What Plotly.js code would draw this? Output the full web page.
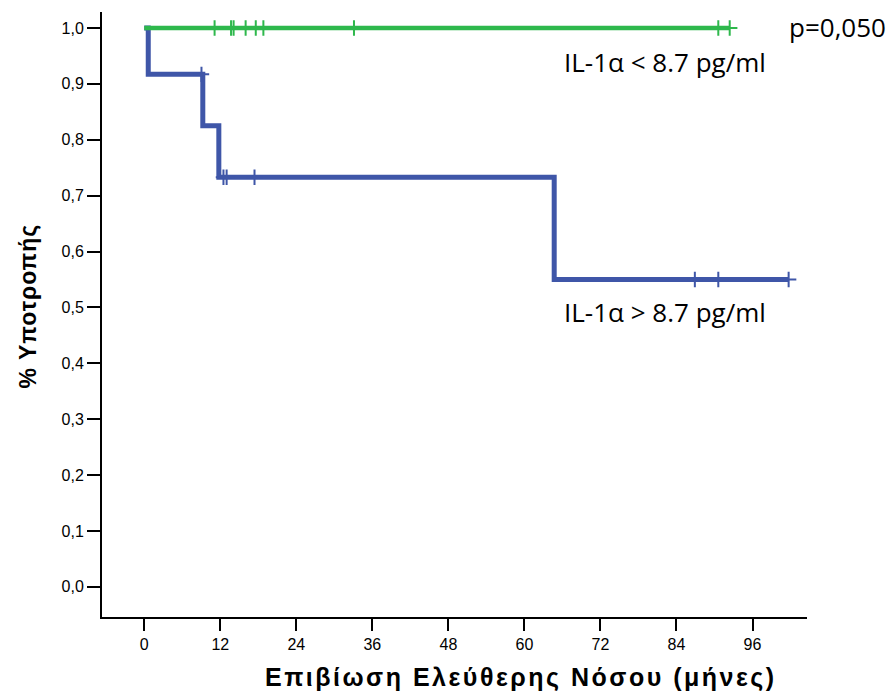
<!DOCTYPE html>
<html>
<head>
<meta charset="utf-8">
<script src="https://cdn.plot.ly/plotly-3.0.1.min.js"></script>
<style>
html,body{margin:0;padding:0;background:#fff;}
#chart{width:888px;height:692px;}
.annotation[data-index="0"] text{letter-spacing:2.5px;}
.annotation[data-index="1"] text{letter-spacing:1px;}
</style>
</head>
<body>
<div id="chart"></div>
<script>
// Kaplan-Meier step data
const blueStepTimes = [0, 0.63, 9.24, 11.77, 64.7, 101.7];
const blueStepSurv  = [1.0, 0.917, 0.825, 0.733, 0.55, 0.55];
const blueCensorTimes = [9.03, 12.5, 13.0, 17.4, 86.9, 90.6, 101.7];
const blueCensorSurv  = [0.917, 0.733, 0.733, 0.733, 0.55, 0.55, 0.55];

const greenStepTimes = [0, 92.4];
const greenStepSurv  = [1.0, 1.0];
const greenCensorTimes = [11.1, 13.7, 14.1, 16.0, 17.6, 18.8, 33.1, 90.6, 92.4];
const greenCensorSurv  = [1, 1, 1, 1, 1, 1, 1, 1, 1];

const xTicks = [0, 12, 24, 36, 48, 60, 72, 84, 96];
const yTicks = [0, 0.1, 0.2, 0.3, 0.4, 0.5, 0.6, 0.7, 0.8, 0.9, 1.0];
const yTickText = ["0,0","0,1","0,2","0,3","0,4","0,5","0,6","0,7","0,8","0,9","1,0"];

const blue = "rgb(63,86,168)";
const green = "rgb(46,184,76)";

const traces = [
  {x: blueStepTimes, y: blueStepSurv, type: "scatter", mode: "lines",
   line: {shape: "hv", color: blue, width: 5}, hoverinfo: "skip", showlegend: false},
  {x: blueCensorTimes, y: blueCensorSurv, type: "scatter", mode: "markers",
   marker: {symbol: "cross-thin", size: 11, line: {color: blue, width: 2}}, showlegend: false},
  {x: greenStepTimes, y: greenStepSurv, type: "scatter", mode: "lines",
   line: {shape: "hv", color: green, width: 4.5}, hoverinfo: "skip", showlegend: false},
  {x: greenCensorTimes, y: greenCensorSurv, type: "scatter", mode: "markers",
   marker: {symbol: "cross-thin", size: 11, line: {color: green, width: 2}}, showlegend: false}
];

const tickFont = {family: "Liberation Sans, Arial, sans-serif", size: 16, color: "#000"};
const labelFont = {family: "Open Sans, sans-serif", size: 26, color: "#000"};

const layout = {
  width: 888, height: 692,
  margin: {l: 102, r: 81, t: 12, b: 75},
  paper_bgcolor: "#fff", plot_bgcolor: "#fff",
  showlegend: false,
  xaxis: {
    range: [-6.67, 104.6], tickvals: xTicks, ticktext: xTicks.map(String),
    showgrid: false, zeroline: false, showline: true, linecolor: "#000", linewidth: 2,
    ticks: "outside", ticklen: 12, tickwidth: 2, tickcolor: "#000",
    tickfont: tickFont
  },
  yaxis: {
    range: [-0.054, 1.0286], tickvals: yTicks, ticktext: yTickText,
    showgrid: false, zeroline: false, showline: true, linecolor: "#000", linewidth: 2,
    ticks: "outside", ticklen: 13, tickwidth: 2, tickcolor: "#000",
    tickfont: tickFont
  },
  annotations: [
    {xref: "paper", yref: "paper", x: 0.595, y: -0.1, xanchor: "center", yanchor: "middle",
     text: "<b>Επιβίωση Ελεύθερης Νόσου (μήνες)</b>", showarrow: false,
     font: {family: "Liberation Sans, Arial, sans-serif", size: 25, color: "#000"}},
    {xref: "paper", yref: "paper", x: -0.105, y: 0.514, xanchor: "center", yanchor: "middle",
     textangle: -90, text: "<b>% Υποτροπής</b>", showarrow: false,
     font: {family: "Liberation Sans, Arial, sans-serif", size: 23, color: "#000"}},
    {xref: "paper", yref: "paper", x: 0.9715, y: 0.975, xanchor: "left", yanchor: "middle",
     text: "p=0,050", showarrow: false, font: labelFont},
    {xref: "x", yref: "y", x: 66.0, y: 0.939, xanchor: "left", yanchor: "middle",
     text: "IL-1α < 8.7 pg/ml", showarrow: false, font: labelFont},
    {xref: "x", yref: "y", x: 66.0, y: 0.492, xanchor: "left", yanchor: "middle",
     text: "IL-1α > 8.7 pg/ml", showarrow: false, font: labelFont}
  ]
};

Plotly.newPlot("chart", traces, layout, {displayModeBar: false, staticPlot: true});
</script>
</body>
</html>
